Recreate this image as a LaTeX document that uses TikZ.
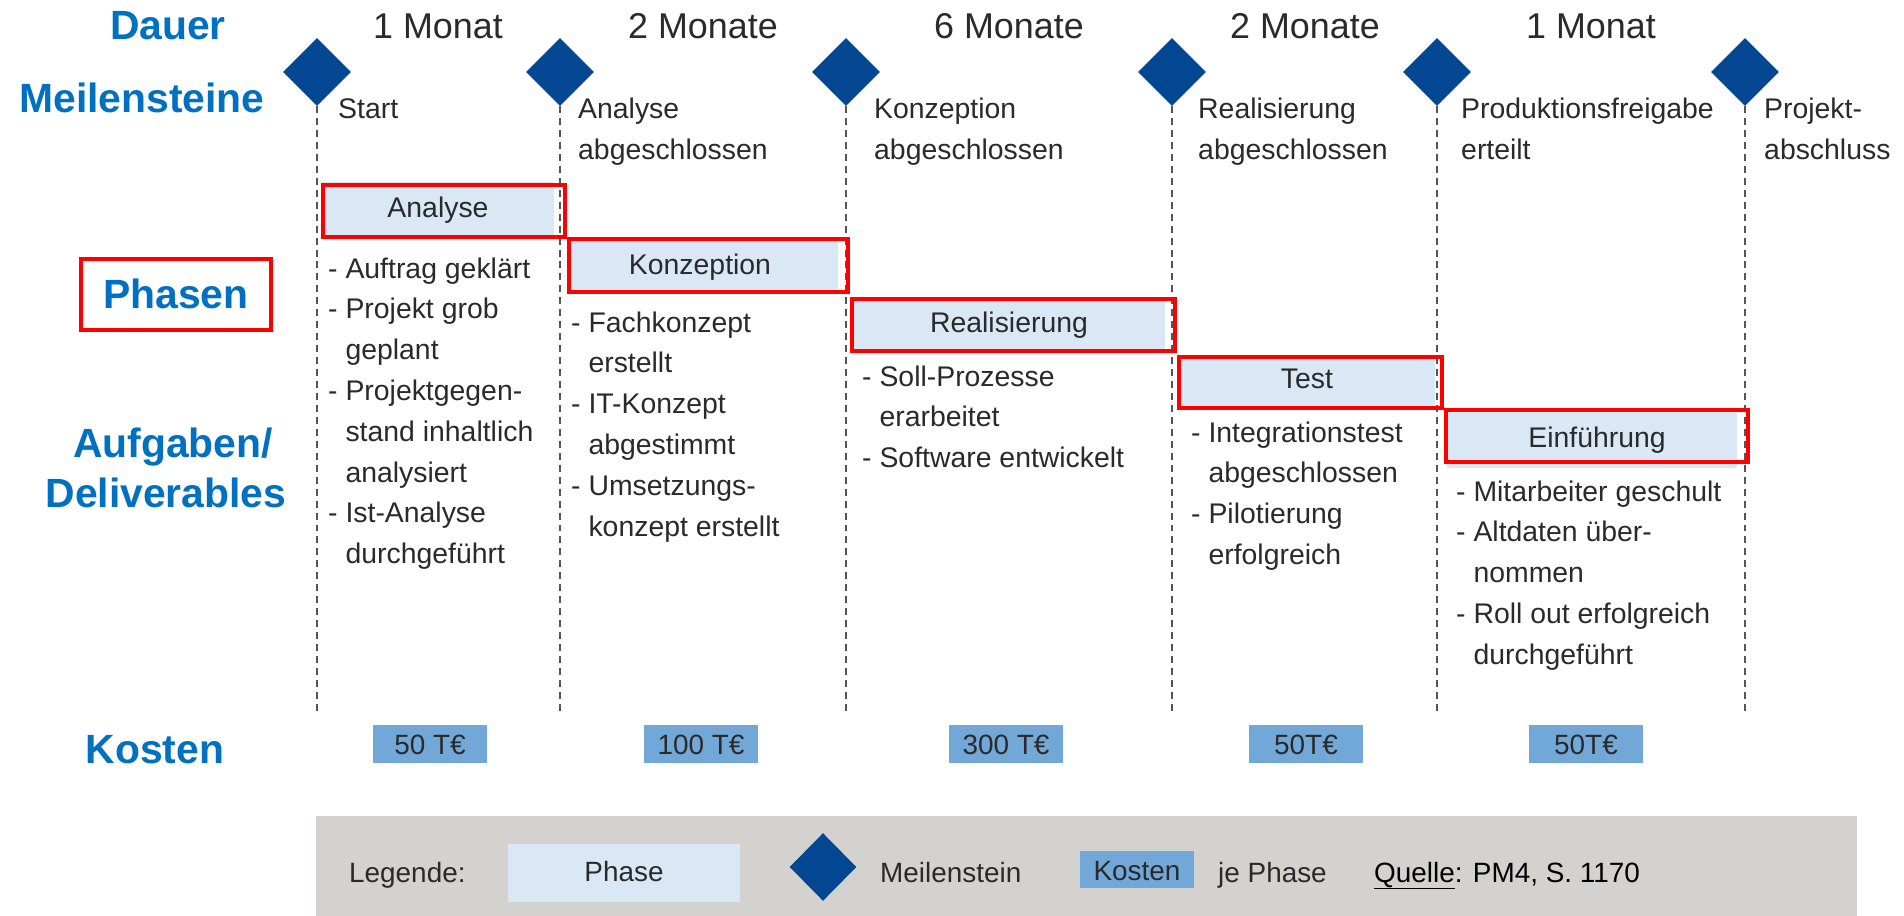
\documentclass[tikz,border=0pt]{standalone}
\usepackage{fontspec}
\setmainfont{Liberation Sans}
\usetikzlibrary{shapes.geometric}

\definecolor{headblue}{RGB}{0,112,192}
\definecolor{navy}{RGB}{3,70,146}
\definecolor{txt}{RGB}{42,42,42}
\definecolor{guide}{RGB}{85,85,85}
\definecolor{phasefill}{RGB}{218,232,246}
\definecolor{costfill}{RGB}{114,168,216}
\definecolor{band}{RGB}{211,210,206}
\definecolor{mark}{RGB}{255,0,0}

% one deliverable per line, stacked at a fixed line pitch
\newcommand\deliverables[4]{%
  \foreach \t [count=\k from 0] in {#4}
    \node[body] (#1\k) at (#2,{#3+40.8*\k}) {\t};%
}

\begin{document}
\begin{tikzpicture}[x=1bp,y=-1bp,
  head/.style={font=\fontsize{41}{41}\selectfont\bfseries, text=headblue, inner sep=0, anchor=base},
  dur/.style={font=\fontsize{36}{36}\selectfont, text=txt, inner sep=0, anchor=base},
  body/.style={font=\fontsize{28.5}{34}\selectfont, text=txt, inner sep=0, anchor=base west},
  phaselabel/.style={font=\fontsize{28.5}{34}\selectfont, text=txt, inner sep=0, anchor=base},
  milestone/.style={diamond, fill=navy, minimum width=68, minimum height=68, inner sep=0, aspect=1},
  msline/.style={draw=guide, line width=2.2, dash pattern=on 7 off 5},
  redframe/.style={draw=mark, line width=4},
  costbox/.style={fill=costfill, minimum width=114, minimum height=38, inner sep=0,
    text height=20.5, text depth=0, font=\fontsize{28}{34}\selectfont, text=txt},
  legendtext/.style={font=\fontsize{28}{34}\selectfont, text=txt, inner sep=0, anchor=base west}
]
\useasboundingbox (0,0) rectangle (1904,916);
\fill[white] (0,0) rectangle (1904,916);

% row headings
\node[head] (hDauer) at (168,39) {Dauer};
\node[head] (hMeil) at (142,112) {Meilensteine};
\node[head] (hPhasen) at (176,308) {Phasen};
\draw[redframe] (81,259) rectangle (271,330);
\node[head] (hAufg) at (173,457) {Aufgaben/};
\node[head] (hDeliv) at (166,507) {Deliverables};
\node[head] (hKosten) at (155,763) {Kosten};

% milestones with dashed guide lines
\foreach \x [count=\i] in {317,560,846,1172,1437,1745} {
  \coordinate (e\i) at (\x,712);
  \node[milestone] (m\i) at (\x,72) {};
  \draw[msline] (m\i.south) -- (e\i);
}

% durations
\node[dur] (d1) at (438,38) {1 Monat};
\node[dur] (d2) at (703,38) {2 Monate};
\node[dur] (d3) at (1009,38) {6 Monate};
\node[dur] (d4) at (1305,38) {2 Monate};
\node[dur] (d5) at (1591,38) {1 Monat};

% milestone captions
\node[body] (l1a) at (338,118) {Start};
\node[body] (l2a) at (578,118) {Analyse};
\node[body] (l2b) at (578,159) {abgeschlossen};
\node[body] (l3a) at (874,118) {Konzeption};
\node[body] (l3b) at (874,159) {abgeschlossen};
\node[body] (l4a) at (1198,118) {Realisierung};
\node[body] (l4b) at (1198,159) {abgeschlossen};
\node[body] (l5a) at (1461,118) {Produktionsfreigabe};
\node[body] (l5b) at (1461,159) {erteilt};
\node[body] (l6a) at (1764,118) {Projekt-};
\node[body] (l6b) at (1764,159) {abschluss};

% phases
\fill[phasefill] (322,182) rectangle (554,235);
\draw[redframe] (323,185) rectangle (565,237);
\node[phaselabel] (p1) at (438,217) {Analyse};

\fill[phasefill] (570,240) rectangle (838,290);
\draw[redframe] (569,239) rectangle (848,292);
\node[phaselabel] (p2) at (700,274) {Konzeption};

\fill[phasefill] (852,300) rectangle (1165,350);
\draw[redframe] (852,299) rectangle (1175,351);
\node[phaselabel] (p3) at (1009,332) {Realisierung};

\fill[phasefill] (1178,358) rectangle (1435,408);
\draw[redframe] (1179,357) rectangle (1442,408);
\node[phaselabel] (p4) at (1307,388) {Test};

\fill[phasefill] (1447,413) rectangle (1737,468);
\draw[redframe] (1446,410) rectangle (1748,462);
\node[phaselabel] (p5) at (1597,447) {Einführung};

% deliverables per phase
\deliverables{a}{328}{278}{{- Auftrag geklärt},{- Projekt grob},{\phantom{- }geplant},{- Projektgegen-},{\phantom{- }stand inhaltlich},{\phantom{- }analysiert},{- Ist-Analyse},{\phantom{- }durchgeführt}}
\deliverables{b}{571}{332}{{- Fachkonzept},{\phantom{- }erstellt},{- IT-Konzept},{\phantom{- }abgestimmt},{- Umsetzungs-},{\phantom{- }konzept erstellt}}
\deliverables{c}{862}{386}{{- Soll-Prozesse},{\phantom{- }erarbeitet},{- Software entwickelt}}
\deliverables{t}{1191}{442}{{- Integrationstest},{\phantom{- }abgeschlossen},{- Pilotierung},{\phantom{- }erfolgreich}}
\deliverables{f}{1456}{501}{{- Mitarbeiter geschult},{- Altdaten über-},{\phantom{- }nommen},{- Roll out erfolgreich},{\phantom{- }durchgeführt}}

% costs
\node[costbox] (k1) at (430,744) {50 T€};
\node[costbox] (k2) at (701,744) {100 T€};
\node[costbox] (k3) at (1006,744) {300 T€};
\node[costbox] (k4) at (1306,744) {50T€};
\node[costbox] (k5) at (1586,744) {50T€};

% legend
\fill[band] (316,816) rectangle (1857,916);
\node[legendtext] (lg) at (349,882) {Legende:};
\fill[phasefill] (508,844) rectangle (740,902);
\node[phaselabel, font=\fontsize{28}{34}\selectfont] (lgPhase) at (624,881) {Phase};
\node[milestone, minimum width=67] (lgMs) at (823,867) {};
\node[legendtext] (lgMsText) at (880,882) {Meilenstein};
\fill[costfill] (1080,851) rectangle (1194,888);
\node[phaselabel, font=\fontsize{28}{34}\selectfont] (lgCost) at (1137,880) {Kosten};
\node[legendtext] (lgJe) at (1218,882) {je Phase};
\node[legendtext, text=black] (lgSrc) at (1374,882) {\underline{Quelle}: PM4, S. 1170};
\end{tikzpicture}
\end{document}
